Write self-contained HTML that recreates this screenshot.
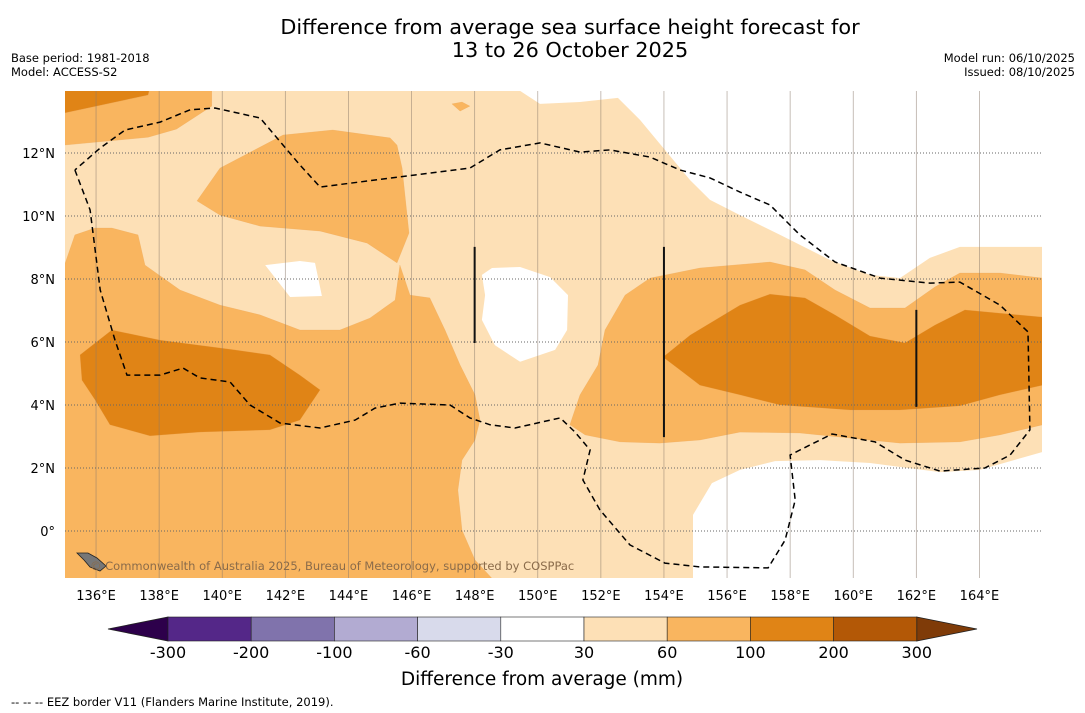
<!DOCTYPE html>
<html><head><meta charset="utf-8"><style>
html,body{margin:0;padding:0;background:#fff;}
svg{display:block;font-family:"DejaVu Sans","Liberation Sans",sans-serif;}
</style></head><body>
<svg id="chart" width="1085" height="713" viewBox="0 0 1085 713" xmlns="http://www.w3.org/2000/svg">
<rect width="1085" height="713" fill="#fff"/>
<text x="570" y="34" font-size="20.8" text-anchor="middle">Difference from average sea surface height forecast for</text>
<text x="570" y="57" font-size="20.8" text-anchor="middle">13 to 26 October 2025</text>
<text x="11" y="62" font-size="11.5">Base period: 1981-2018</text>
<text x="11" y="76" font-size="11.5">Model: ACCESS-S2</text>
<text x="1075" y="62" font-size="11.5" text-anchor="end">Model run: 06/10/2025</text>
<text x="1075" y="76" font-size="11.5" text-anchor="end">Issued: 08/10/2025</text>
<defs><clipPath id="mapclip"><rect x="65" y="91" width="977" height="487"/></clipPath></defs>
<g id="map" clip-path="url(#mapclip)"></g>
<g id="axes"></g>
<g id="cbar"></g>
<text x="542" y="685" font-size="18.5" text-anchor="middle">Difference from average (mm)</text>
<text x="11" y="706" font-size="11.5">--  --  -- EEZ border V11 (Flanders Marine Institute, 2019).</text>
</svg>
<script>
const lonTicks=[136,138,140,142,144,146,148,150,152,154,156,158,160,162,164];
const latTicks=[0,2,4,6,8,10,12];
const levels=[-300,-200,-100,-60,-30,30,60,100,200,300];
const levelColors=["#542788","#8073ac","#b2abd2","#d8daeb","#ffffff","#fde0b6","#f9b55f","#e08416","#b35806"];
const c60="#f9b55f",c100="#e08416",cWhite="#ffffff",cLight="#fde0b6";
const whiteTopRight=[[149.44,13.97],[150.07,13.56],[151.34,13.62],[152.54,13.75],[153.24,13.05],[154.03,12.1],[154.83,11.14],[155.46,10.51],[156.41,10.03],[157.68,9.4],[159.27,8.6],[160.53,8.13],[161.48,8.03],[162.43,8.67],[163.38,9.02],[166,9.02],[166,14.1],[149.44,14.1]];
const whiteBottomRight=[[154.92,-1.6],[154.92,0.51],[155.52,1.52],[156.41,1.94],[157.52,2.22],[158.95,2.25],[160.53,2.16],[162.75,1.87],[164.01,1.94],[166,2.51],[166,-1.6]];
const whiteCentre=[[148.23,8.13],[148.55,8.35],[149.44,8.38],[150.39,8.06],[150.96,7.49],[150.93,6.38],[150.55,5.75],[149.44,5.37],[148.64,5.9],[148.23,6.7],[148.33,7.49]];
const whiteSmall=[[141.36,8.44],[142.46,8.57],[142.94,8.51],[143.16,7.46],[142.15,7.43]];
const midLeft=[[135,8.44],[135.33,9.4],[135.97,9.62],[136.5,9.62],[137.33,9.4],[137.55,8.44],[138.66,7.65],[139.93,7.17],[141.2,6.86],[142.46,6.38],[143.73,6.38],[144.68,6.76],[145.48,7.33],[145.63,8.44],[145.95,7.49],[146.58,7.4],[147.06,6.38],[147.54,5.27],[148.01,4.32],[148.17,3.52],[148.01,2.89],[147.6,2.25],[147.47,1.3],[147.6,0.03],[148.01,-0.92],[148.64,-1.6],[135,-1.6]];
const midTopLeft=[[135,13.27],[137.65,13.84],[137.71,14.1],[139.67,14.1],[139.67,13.49],[138.55,12.76],[137.65,12.5],[135,12.25]];
const midUpper=[[139.2,10.48],[139.93,11.52],[141.93,12.57],[143.5,12.73],[145.32,12.48],[145.54,12.25],[145.7,11.52],[145.92,9.46],[145.54,8.51],[144.59,9.14],[143.1,9.52],[141.2,9.68],[139.93,10.03]];
const midRight=[[151.02,3.37],[151.34,4.32],[151.91,5.27],[152.13,6.38],[152.77,7.49],[153.56,8.03],[155.14,8.35],[157.36,8.54],[158.47,8.29],[159.42,7.65],[160.53,7.08],[161.64,7.08],[162.59,7.75],[163.38,8.19],[164.65,8.19],[166,8.03],[166,3.37],[164.65,3.05],[163.38,2.83],[161.48,2.79],[158.31,3.11],[156.41,3.14],[155.14,2.89],[153.87,2.79],[152.61,2.83],[151.5,3.05]];
const midSmall=[[147.28,13.56],[147.6,13.62],[147.85,13.49],[147.54,13.33]];
const darkTopLeft=[[135,14.1],[137.71,14.1],[137.65,13.84],[135,13.27]];
const darkLeft=[[135.49,5.59],[136.5,6.38],[138.03,6.06],[140.4,5.75],[141.51,5.59],[142.46,4.95],[143.1,4.48],[142.46,3.52],[141.51,3.21],[139.29,3.14],[137.71,3.02],[136.44,3.37],[135.97,4.16],[135.55,4.79]];
const darkRight=[[153.97,5.52],[154.83,6.22],[156.41,7.17],[157.36,7.52],[158.47,7.4],[159.42,6.86],[160.53,6.19],[161.64,5.97],[162.59,6.54],[163.54,7.02],[166,6.79],[166,4.63],[164.65,4.32],[163.38,3.97],[161.48,3.84],[159.9,3.84],[157.68,4.0],[156.41,4.32],[155.14,4.63],[154.51,5.11]];
const eezBorder=[[135.33,11.46],[135.81,10.19],[136.13,7.65],[136.6,6.06],[136.98,4.95],[138.03,4.95],[138.76,5.17],[139.29,4.86],[140.25,4.73],[140.88,4.0],[141.83,3.43],[143.1,3.27],[144.21,3.52],[144.84,3.9],[145.63,4.06],[147.22,4.0],[147.85,3.59],[148.49,3.37],[149.28,3.27],[150.71,3.59],[151.18,3.14],[151.66,2.57],[151.43,1.62],[151.97,0.67],[152.92,-0.44],[154.03,-1.02],[155.14,-1.14],[157.3,-1.17],[157.84,-0.29],[158.16,0.98],[158.0,2.41],[158.31,2.57],[159.33,3.08],[160.69,2.83],[161.64,2.25],[162.75,1.9],[164.17,2.0],[164.97,2.41],[165.6,3.21],[165.54,6.32],[164.65,7.17],[163.38,7.9],[162.43,7.87],[160.85,8.03],[159.42,8.54],[158.31,9.4],[157.36,10.35],[156.41,10.76],[155.46,11.21],[154.51,11.46],[153.56,11.87],[152.29,12.1],[151.34,12.03],[150.07,12.32],[148.8,12.1],[147.85,11.52],[146.11,11.3],[143.1,10.92],[142.46,11.62],[141.2,13.11],[139.77,13.43],[138.98,13.37],[138.03,12.98],[136.92,12.73],[136.13,12.16],[135.33,11.46]];
const blackLines=[[148,9.02,5.97],[154,9.02,2.98],[162,7.02,3.94]];

const NS="http://www.w3.org/2000/svg";
const X=lon=>64.5+(lon-135)*31.55;
const Y=lat=>531-lat*31.5;
function mk(tag,attrs,parent){const e=document.createElementNS(NS,tag);for(const k in attrs)e.setAttribute(k,attrs[k]);parent.appendChild(e);return e;}
const pts=a=>a.map(p=>X(p[0]).toFixed(1)+","+Y(p[1]).toFixed(1)).join(" ");
const map=document.getElementById("map");
let bg=mk("rect",{x:65,y:91,width:977,height:487,fill:cLight},map);


const regions=[[whiteTopRight,cWhite,"white-region-ne"],[whiteBottomRight,cWhite,"white-region-se"],[whiteCentre,cWhite,"white-region-centre"],[whiteSmall,cWhite,"white-region-small"],[midLeft,c60,"mid-region-west"],[midTopLeft,c60,"mid-region-northwest"],[midUpper,c60,"mid-region-north"],[midRight,c60,"mid-region-east"],[midSmall,c60,"mid-region-small"],[darkTopLeft,c100,"dark-region-northwest"],[darkLeft,c100,"dark-region-west"],[darkRight,c100,"dark-region-east"]];
regions.forEach(r=>{
 const p=mk("polygon",{points:pts(r[0]),fill:r[1],stroke:r[1]==cWhite?"none":"#e8a050","stroke-width":0.4,"stroke-opacity":0.5},map);
 
 
});
lonTicks.forEach(l=>{const g=mk("line",{x1:X(l),x2:X(l),y1:91,y2:578,stroke:"#8a7a6a","stroke-width":0.8,"stroke-opacity":0.6},map);
 
 });
latTicks.forEach(l=>{const g=mk("line",{x1:65,x2:1042,y1:Y(l),y2:Y(l),stroke:"#666","stroke-width":1,"stroke-dasharray":"1,2"},map);
 
 });
const eez=mk("polyline",{points:pts(eezBorder),fill:"none",stroke:"#000","stroke-width":1.5,"stroke-dasharray":"6,4"},map);


blackLines.forEach(b=>{const l=mk("line",{x1:X(b[0]),x2:X(b[0]),y1:Y(b[1]),y2:Y(b[2]),stroke:"#111","stroke-width":2},map);
 
 });
const isl=mk("polygon",{points:"77,553 88,553 97,558 106,566 100,571 90,567 84,560",fill:"#777",stroke:"#222","stroke-width":0.8},map);


const wm=mk("text",{x:90,y:570,"font-size":11.5,fill:"#8a6b4a"},map);
wm.textContent="© Commonwealth of Australia 2025, Bureau of Meteorology, supported by COSPPac";



const axes=document.getElementById("axes");
lonTicks.forEach(l=>{const t=mk("text",{x:X(l),y:600,"font-size":13,"text-anchor":"middle"},axes);t.textContent=l+"°E";
 
 });
latTicks.forEach(l=>{const t=mk("text",{x:55,y:Y(l)+5,"font-size":13,"text-anchor":"end"},axes);t.textContent=l===0?"0°":l+"°N";
 
 });

const cb=document.getElementById("cbar");
const cx0=168,cw=83.2,cy=617,ch=24;
const lt=mk("polygon",{points:`108,629 ${cx0},${cy} ${cx0},${cy+ch}`,fill:"#2d004b",stroke:"#222","stroke-width":0.8},cb);


levelColors.forEach((c,i)=>{const r=mk("rect",{x:cx0+i*cw,y:cy,width:cw,height:ch,fill:c,stroke:"#222","stroke-width":0.6},cb);
 
 });
const xe=cx0+levelColors.length*cw;
const rt=mk("polygon",{points:`${xe},${cy} 977,629 ${xe},${cy+ch}`,fill:"#7f3b08",stroke:"#222","stroke-width":0.8},cb);


levels.forEach((v,i)=>{const t=mk("text",{x:cx0+i*cw,y:658,"font-size":16,"text-anchor":"middle"},cb);t.textContent=v;
 
 });
</script>
</body></html>
